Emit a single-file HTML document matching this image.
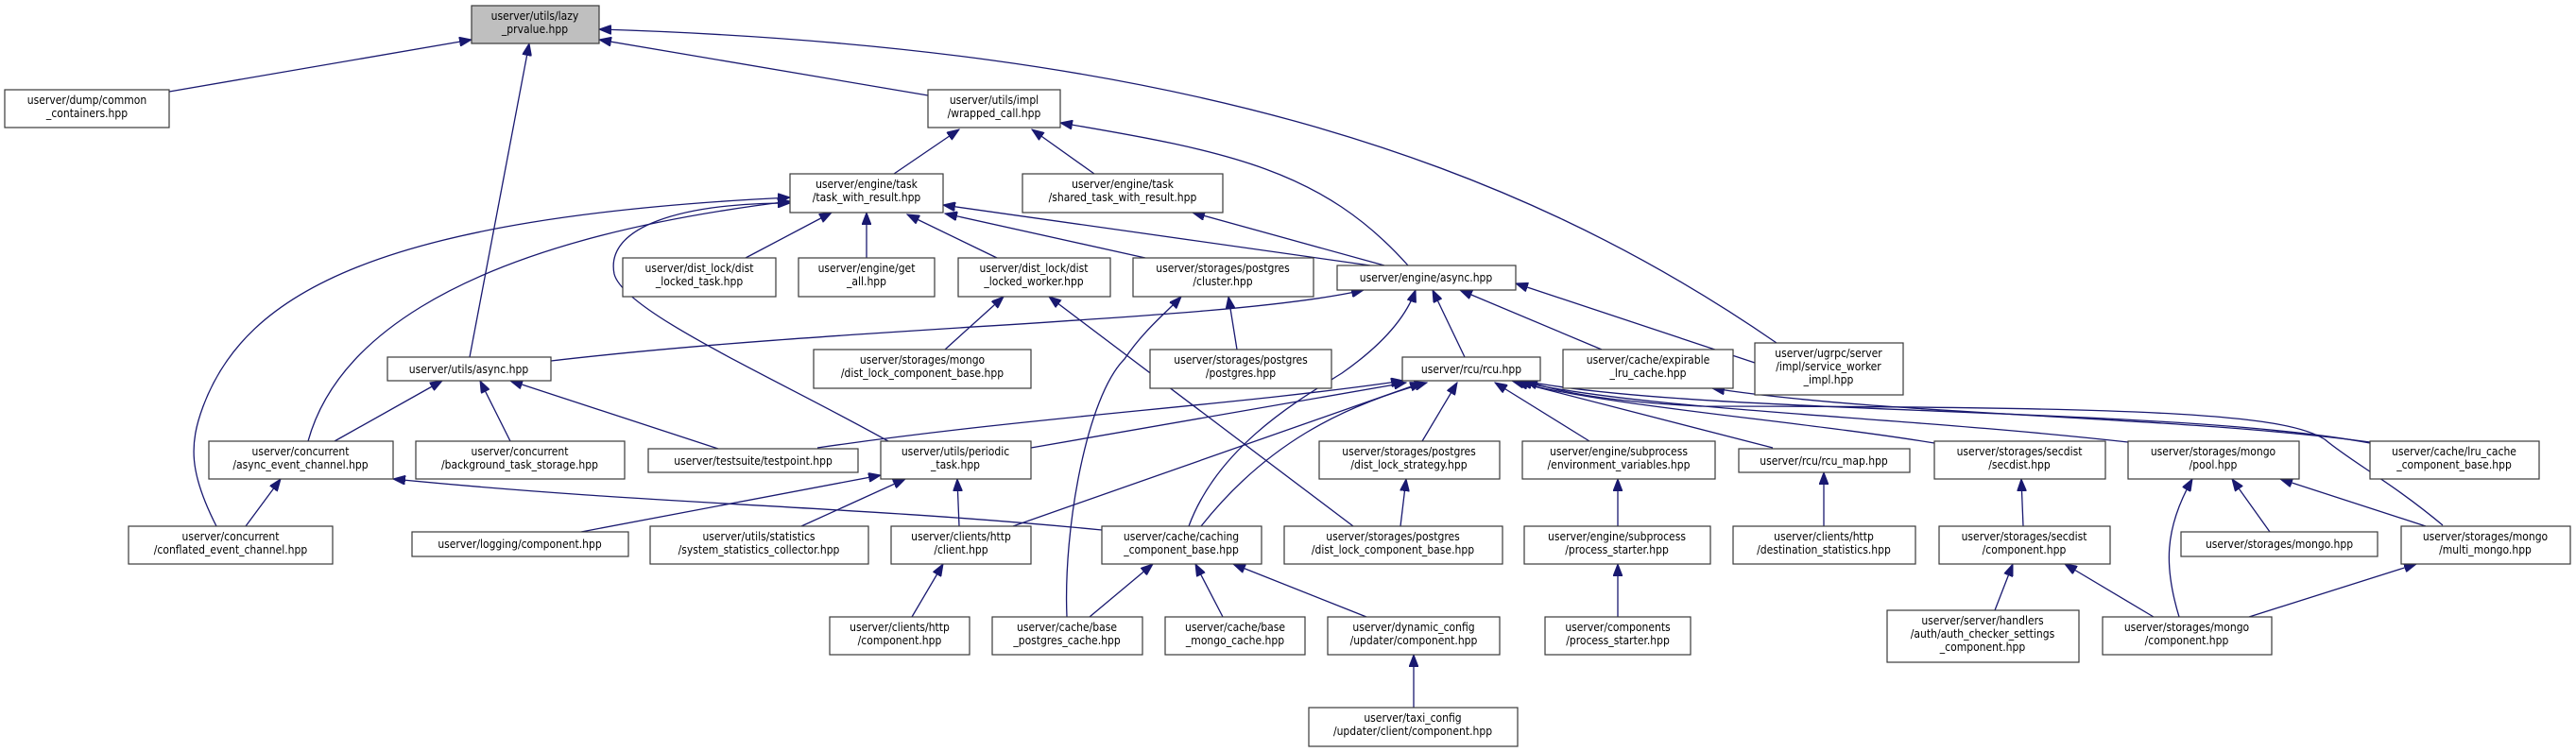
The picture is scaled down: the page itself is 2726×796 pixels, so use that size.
<!DOCTYPE html>
<html><head><meta charset="utf-8"><style>
html,body{margin:0;padding:0;background:#fff;}
svg{display:block;}
text{font-family:"DejaVu Sans Condensed","Liberation Sans Narrow","Liberation Sans",sans-serif;font-size:12px;fill:#000;text-anchor:middle;}
rect{fill:#fff;stroke:#3a3a3a;stroke-width:1.2;}
.e{fill:none;stroke:#191970;stroke-width:1.3;marker-end:url(#a);}
</style></head><body>
<svg width="2726" height="796" viewBox="0 0 2726 796" xmlns="http://www.w3.org/2000/svg">
<defs><marker id="a" markerUnits="userSpaceOnUse" markerWidth="14" markerHeight="10" refX="13" refY="5" orient="auto"><path d="M0,0 L13,5 L0,10 z" fill="#191970" stroke="#191970"/></marker></defs>

<!-- edges -->
<path class="e" d="M179,97 L499,42"/>
<path class="e" d="M982,101 L634,42"/>
<path class="e" d="M497,378 L560,46"/>
<path class="e" d="M1880,363 C1600,170 1250,50 634,31"/>
<path class="e" d="M946,184 L1015,137"/>
<path class="e" d="M1158,184 L1092,137"/>
<path class="e" d="M1490,281 C1400,180 1300,160 1122,130"/>
<path class="e" d="M1450,281 L998,217"/>
<path class="e" d="M1465,281 L1262,225"/>
<path class="e" d="M789,273 L880,225"/>
<path class="e" d="M917,273 L917,225"/>
<path class="e" d="M1055,273 L960,227"/>
<path class="e" d="M1212,273 L1000,226"/>
<path class="e" d="M583,382 C900,345 1300,340 1443,307"/>
<path class="e" d="M1857,384 L1604,300"/>
<path class="e" d="M1550,378 L1516,307"/>
<path class="e" d="M1695,370 L1545,307"/>
<path class="e" d="M1258,557 C1290,470 1380,420 1420,395 C1470,360 1490,330 1498,307"/>
<path class="e" d="M326,467 C350,380 450,260 836,213"/>
<path class="e" d="M229,557 C200,500 200,470 215,430 C260,310 400,230 836,209"/>
<path class="e" d="M940,467 C820,400 660,330 650,290 C640,240 720,215 836,215"/>
<path class="e" d="M1091,474 L1488,405"/>
<path class="e" d="M865,474 C1100,440 1300,430 1485,403"/>
<path class="e" d="M760,475 L540,403"/>
<path class="e" d="M354,467 L468,403"/>
<path class="e" d="M540,467 L508,403"/>
<path class="e" d="M1432,557 L1110,314"/>
<path class="e" d="M1000,370 L1062,314"/>
<path class="e" d="M1129,653 C1125,560 1150,420 1190,380 C1210,350 1235,330 1250,314"/>
<path class="e" d="M1309,370 L1300,314"/>
<path class="e" d="M1271,557 C1340,470 1420,430 1510,405"/>
<path class="e" d="M1072,557 L1505,405"/>
<path class="e" d="M1505,467 L1542,405"/>
<path class="e" d="M1682,467 L1582,405"/>
<path class="e" d="M1876,474 L1600,403"/>
<path class="e" d="M2047,469 C1900,445 1700,430 1604,404"/>
<path class="e" d="M2252,468 C2000,440 1750,435 1608,404"/>
<path class="e" d="M2508,469 C2300,430 1800,440 1612,403"/>
<path class="e" d="M2585,556 C2530,510 2490,490 2460,465 C2420,440 2300,430 1800,430 C1700,425 1650,415 1614,403"/>
<path class="e" d="M2508,468 C2300,440 2000,440 1812,411"/>
<path class="e" d="M615,563 L932,503"/>
<path class="e" d="M848,557 L958,507"/>
<path class="e" d="M1015,557 L1013,507"/>
<path class="e" d="M1166,561 C900,535 700,535 416,507"/>
<path class="e" d="M260,557 L297,507"/>
<path class="e" d="M965,653 L998,597"/>
<path class="e" d="M1153,653 L1220,597"/>
<path class="e" d="M1294,653 L1265,597"/>
<path class="e" d="M1446,653 L1305,597"/>
<path class="e" d="M1496,749 L1496,693"/>
<path class="e" d="M1712,557 L1712,507"/>
<path class="e" d="M1712,653 L1712,597"/>
<path class="e" d="M1930,557 L1930,500"/>
<path class="e" d="M2141,557 L2139,507"/>
<path class="e" d="M2111,646 L2130,597"/>
<path class="e" d="M2279,653 L2185,597"/>
<path class="e" d="M2306,653 C2290,600 2290,560 2320,507"/>
<path class="e" d="M2402,563 L2362,507"/>
<path class="e" d="M2567,557 L2413,507"/>
<path class="e" d="M2380,653 L2557,597"/>
<path class="e" d="M1482,557 L1488,507"/>

<!-- nodes -->
<rect x="499" y="6" width="135" height="40" style="fill:#bfbfbf"/><text x="566" y="21">userver/utils/lazy</text><text x="566" y="35">_prvalue.hpp</text>
<rect x="5" y="95" width="174" height="40"/><text x="92" y="110">userver/dump/common</text><text x="92" y="124">_containers.hpp</text>
<rect x="982" y="95" width="140" height="40"/><text x="1052" y="110">userver/utils/impl</text><text x="1052" y="124">/wrapped_call.hpp</text>
<rect x="836" y="184" width="162" height="41"/><text x="917" y="199">userver/engine/task</text><text x="917" y="213">/task_with_result.hpp</text>
<rect x="1082" y="184" width="212" height="41"/><text x="1188" y="199">userver/engine/task</text><text x="1188" y="213">/shared_task_with_result.hpp</text>
<rect x="659" y="273" width="162" height="41"/><text x="740" y="288">userver/dist_lock/dist</text><text x="740" y="302">_locked_task.hpp</text>
<rect x="845" y="273" width="144" height="41"/><text x="917" y="288">userver/engine/get</text><text x="917" y="302">_all.hpp</text>
<rect x="1014" y="273" width="161" height="41"/><text x="1094" y="288">userver/dist_lock/dist</text><text x="1094" y="302">_locked_worker.hpp</text>
<rect x="1199" y="273" width="191" height="41"/><text x="1294" y="288">userver/storages/postgres</text><text x="1294" y="302">/cluster.hpp</text>
<rect x="1415" y="281" width="189" height="26"/><text x="1509" y="298">userver/engine/async.hpp</text>
<rect x="410" y="378" width="173" height="25"/><text x="496" y="395">userver/utils/async.hpp</text>
<rect x="861" y="370" width="230" height="41"/><text x="976" y="385">userver/storages/mongo</text><text x="976" y="399">/dist_lock_component_base.hpp</text>
<rect x="1217" y="370" width="192" height="41"/><text x="1313" y="385">userver/storages/postgres</text><text x="1313" y="399">/postgres.hpp</text>
<rect x="1484" y="378" width="146" height="25"/><text x="1557" y="395">userver/rcu/rcu.hpp</text>
<rect x="1654" y="370" width="180" height="41"/><text x="1744" y="385">userver/cache/expirable</text><text x="1744" y="399">_lru_cache.hpp</text>
<rect x="1857" y="363" width="157" height="55"/><text x="1935" y="378">userver/ugrpc/server</text><text x="1935" y="392">/impl/service_worker</text><text x="1935" y="406">_impl.hpp</text>

<rect x="221" y="467" width="195" height="40"/><text x="318" y="482">userver/concurrent</text><text x="318" y="496">/async_event_channel.hpp</text>
<rect x="440" y="467" width="221" height="40"/><text x="550" y="482">userver/concurrent</text><text x="550" y="496">/background_task_storage.hpp</text>
<rect x="686" y="475" width="222" height="25"/><text x="797" y="492">userver/testsuite/testpoint.hpp</text>
<rect x="932" y="467" width="159" height="40"/><text x="1011" y="482">userver/utils/periodic</text><text x="1011" y="496">_task.hpp</text>
<rect x="1396" y="467" width="191" height="40"/><text x="1491" y="482">userver/storages/postgres</text><text x="1491" y="496">/dist_lock_strategy.hpp</text>
<rect x="1611" y="467" width="204" height="40"/><text x="1713" y="482">userver/engine/subprocess</text><text x="1713" y="496">/environment_variables.hpp</text>
<rect x="1840" y="475" width="181" height="25"/><text x="1930" y="492">userver/rcu/rcu_map.hpp</text>
<rect x="2047" y="467" width="181" height="40"/><text x="2137" y="482">userver/storages/secdist</text><text x="2137" y="496">/secdist.hpp</text>
<rect x="2252" y="467" width="181" height="40"/><text x="2342" y="482">userver/storages/mongo</text><text x="2342" y="496">/pool.hpp</text>
<rect x="2508" y="467" width="179" height="40"/><text x="2597" y="482">userver/cache/lru_cache</text><text x="2597" y="496">_component_base.hpp</text>

<rect x="136" y="557" width="216" height="40"/><text x="244" y="572">userver/concurrent</text><text x="244" y="586">/conflated_event_channel.hpp</text>
<rect x="436" y="563" width="229" height="26"/><text x="550" y="580">userver/logging/component.hpp</text>
<rect x="688" y="557" width="231" height="40"/><text x="803" y="572">userver/utils/statistics</text><text x="803" y="586">/system_statistics_collector.hpp</text>
<rect x="943" y="557" width="148" height="40"/><text x="1017" y="572">userver/clients/http</text><text x="1017" y="586">/client.hpp</text>
<rect x="1166" y="557" width="169" height="40"/><text x="1250" y="572">userver/cache/caching</text><text x="1250" y="586">_component_base.hpp</text>
<rect x="1359" y="557" width="231" height="40"/><text x="1474" y="572">userver/storages/postgres</text><text x="1474" y="586">/dist_lock_component_base.hpp</text>
<rect x="1613" y="557" width="197" height="40"/><text x="1711" y="572">userver/engine/subprocess</text><text x="1711" y="586">/process_starter.hpp</text>
<rect x="1834" y="557" width="193" height="40"/><text x="1930" y="572">userver/clients/http</text><text x="1930" y="586">/destination_statistics.hpp</text>
<rect x="2052" y="557" width="181" height="40"/><text x="2142" y="572">userver/storages/secdist</text><text x="2142" y="586">/component.hpp</text>
<rect x="2308" y="563" width="208" height="26"/><text x="2412" y="580">userver/storages/mongo.hpp</text>
<rect x="2541" y="557" width="179" height="40"/><text x="2630" y="572">userver/storages/mongo</text><text x="2630" y="586">/multi_mongo.hpp</text>

<rect x="878" y="653" width="148" height="40"/><text x="952" y="668">userver/clients/http</text><text x="952" y="682">/component.hpp</text>
<rect x="1050" y="653" width="159" height="40"/><text x="1129" y="668">userver/cache/base</text><text x="1129" y="682">_postgres_cache.hpp</text>
<rect x="1233" y="653" width="148" height="40"/><text x="1307" y="668">userver/cache/base</text><text x="1307" y="682">_mongo_cache.hpp</text>
<rect x="1405" y="653" width="182" height="40"/><text x="1496" y="668">userver/dynamic_config</text><text x="1496" y="682">/updater/component.hpp</text>
<rect x="1635" y="653" width="154" height="40"/><text x="1712" y="668">userver/components</text><text x="1712" y="682">/process_starter.hpp</text>
<rect x="1997" y="646" width="203" height="55"/><text x="2098" y="661">userver/server/handlers</text><text x="2098" y="675">/auth/auth_checker_settings</text><text x="2098" y="689">_component.hpp</text>
<rect x="2225" y="653" width="179" height="40"/><text x="2314" y="668">userver/storages/mongo</text><text x="2314" y="682">/component.hpp</text>
<rect x="1385" y="749" width="221" height="41"/><text x="1495" y="764">userver/taxi_config</text><text x="1495" y="778">/updater/client/component.hpp</text>
</svg>
</body></html>
